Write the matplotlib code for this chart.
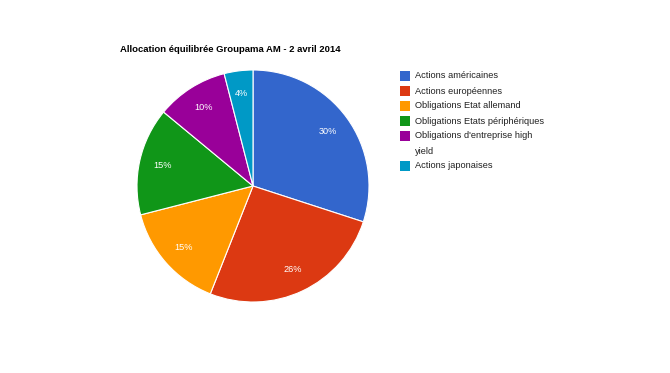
import matplotlib
matplotlib.use("Agg")
import matplotlib.pyplot as plt
from matplotlib.patches import Rectangle

plt.rcParams['font.family'] = ['Liberation Sans', 'DejaVu Sans']

title = "Allocation équilibrée Groupama AM - 2 avril 2014"
categories = ["Actions américaines", "Actions européennes", "Obligations Etat allemand",
              "Obligations Etats périphériques", "Obligations d'entreprise high\nyield",
              "Actions japonaises"]
values = [30, 26, 15, 15, 10, 4]
colors = ["#3366cc", "#dc3912", "#ff9900", "#109618", "#990099", "#0099c6"]

W, H = 670, 373
fig = plt.figure(figsize=(W / 100, H / 100), dpi=100)
ax = fig.add_axes([0, 0, 1, 1])
ax.set_xlim(0, W)
ax.set_ylim(0, H)
ax.set_aspect('equal')
ax.axis('off')

cx, cy, r = 253, H - 186, 116
wedges, texts, autotexts = ax.pie(
    values, colors=colors, startangle=90, counterclock=False,
    center=(cx, cy), radius=r, autopct='%d%%', pctdistance=0.8,
    wedgeprops=dict(edgecolor='white', linewidth=0.8),
    textprops=dict(color='white', fontsize=6.6))
ax.set_xlim(0, W)
ax.set_ylim(0, H)

fig.text(120 / W, 1 - 50 / H, title, fontsize=6.8, fontweight='bold', va='center', ha='left')

y = 76
for lab, col in zip(categories, colors):
    ax.add_patch(Rectangle((400, H - y - 5), 10, 10, facecolor=col, edgecolor='none'))
    lines = lab.split('\n')
    for i, ln in enumerate(lines):
        ax.text(415, H - y - 15 * i, ln, fontsize=6.7, color='#222222', va='center', ha='left')
    y += 15 * len(lines)

fig.savefig("out.png", dpi=100, facecolor='white')
